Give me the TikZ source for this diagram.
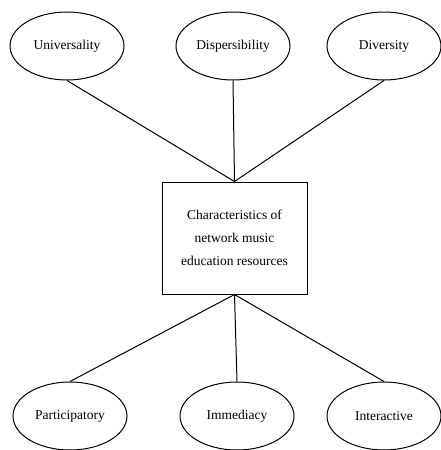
\documentclass[tikz,border=0pt]{standalone}
\usepackage{fontspec}
\setmainfont{Liberation Serif}
\usetikzlibrary{shapes.geometric}
\begin{document}
\begin{tikzpicture}[x=1pt,y=1pt,
  oval/.style={ellipse,draw,line width=1pt,minimum width=114pt,minimum height=68pt,inner sep=0pt,font=\fontsize{13.5}{15}\selectfont},
  centralbox/.style={rectangle,draw,line width=1pt,minimum width=145pt,minimum height=112pt,inner sep=0pt,align=center,font=\fontsize{13.5}{23}\selectfont},
  link/.style={line width=1pt}]
\useasboundingbox (0,0) rectangle (441,-450);
\node[centralbox] (c) at (234.5,-238) {Characteristics of\\network music\\education resources};
\node[oval] (u) at (67,-46) {Universality};
\node[oval] (d) at (233,-46) {Dispersibility};
\node[oval] (v) at (384,-46) {Diversity};
\node[oval] (p) at (70,-416) {Participatory};
\node[oval] (i) at (237,-416) {Immediacy};
\node[oval] (n) at (384,-416) {Interactive};
\draw[link] (u.south) -- (c.north);
\draw[link] (d.south) -- (c.north);
\draw[link] (v.south) -- (c.north);
\draw[link] (c.south) -- (p.north);
\draw[link] (c.south) -- (i.north);
\draw[link] (c.south) -- (n.north);
\end{tikzpicture}
\end{document}
